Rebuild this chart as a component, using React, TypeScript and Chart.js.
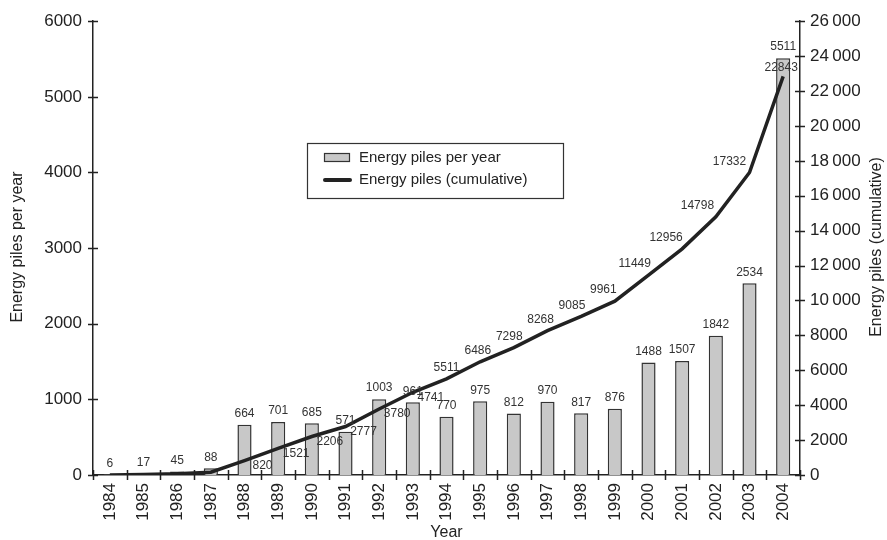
import React, { useEffect, useRef } from "react";
import { Chart, registerables } from "chart.js";

Chart.register(...registerables);

const years = ["1984","1985","1986","1987","1988","1989","1990","1991","1992","1993","1994","1995","1996","1997","1998","1999","2000","2001","2002","2003","2004"];
const perYear = [6,17,45,88,664,701,685,571,1003,961,770,975,812,970,817,876,1488,1507,1842,2534,5511];
const cumulative = [6,23,68,156,820,1521,2206,2777,3780,4741,5511,6486,7298,8268,9085,9961,11449,12956,14798,17332,22843];
const leftAxis = { min: 0, max: 6000, step: 1000 };
const rightAxis = { min: 0, max: 26000, step: 2000 };
const barLabel = "Energy piles per year";
const lineLabel = "Energy piles (cumulative)";
const xTitle = "Year";
const leftTitle = "Energy piles per year";
const rightTitle = "Energy piles (cumulative)";

const FONT = "'Liberation Sans', Arial, sans-serif";
const INK = "#222";

const fmtRight = (v: number) => {
  const s = String(v);
  return v >= 10000 ? s.slice(0, s.length - 3) + "\u2009" + s.slice(-3) : s;
};

const decorPlugin = {
  id: "decor",
  afterDatasetsDraw(chart: any) {
    const ctx = chart.ctx;
    ctx.save();
    ctx.fillStyle = "#333";
    ctx.font = `12px ${FONT}`;
    ctx.textAlign = "center";
    ctx.textBaseline = "middle";
    const barMeta = chart.getDatasetMeta(1);
    barMeta.data.forEach((el: any, i: number) => {
      ctx.fillText(String(perYear[i]), el.x, el.y - 11);
    });
    const lineMeta = chart.getDatasetMeta(0);
    lineMeta.data.forEach((el: any, i: number) => {
      if (i < 4) return;
      let dx = 0, dy = 0;
      if (i < 10) { dx = 18; dy = 5; }
      else if (i < cumulative.length - 1) { dx = -Math.min(20, (i - 10) * 2.3); dy = -11; }
      else { dx = -2; dy = -9; }
      ctx.fillText(String(cumulative[i]), el.x + dx, el.y + dy);
    });
    ctx.restore();
  },
  afterDraw(chart: any) {
    const ctx = chart.ctx;
    const a = chart.chartArea;
    const yL = chart.scales.y;
    const yR = chart.scales.y1;
    ctx.save();
    ctx.strokeStyle = INK;
    ctx.lineWidth = 1.5;
    ctx.beginPath();
    for (let v = leftAxis.min; v <= leftAxis.max; v += leftAxis.step) {
      const y = Math.round(yL.getPixelForValue(v)) + 0.5;
      ctx.moveTo(a.left - 5, y); ctx.lineTo(a.left + 5, y);
    }
    for (let v = rightAxis.min; v <= rightAxis.max; v += rightAxis.step) {
      const y = Math.round(yR.getPixelForValue(v)) + 0.5;
      ctx.moveTo(a.right - 5, y); ctx.lineTo(a.right + 5, y);
    }
    const n = years.length;
    for (let i = 0; i <= n; i++) {
      const x = Math.round(a.left + (i * (a.right - a.left)) / n) + 0.5;
      ctx.moveTo(x, a.bottom - 5); ctx.lineTo(x, a.bottom + 5);
    }
    ctx.stroke();

    ctx.fillStyle = INK;
    ctx.font = `16px ${FONT}`;
    ctx.textAlign = "center";
    ctx.textBaseline = "middle";
    ctx.fillText(xTitle, (a.left + a.right) / 2, 533);
    ctx.save();
    ctx.translate(18, 247);
    ctx.rotate(-Math.PI / 2);
    ctx.fillText(leftTitle, 0, 0);
    ctx.restore();
    ctx.save();
    ctx.translate(877, 247);
    ctx.rotate(-Math.PI / 2);
    ctx.fillText(rightTitle, 0, 0);
    ctx.restore();

    const lx = 307, ly = 143, lw = 256, lh = 55;
    ctx.fillStyle = "#fff";
    ctx.fillRect(lx, ly, lw, lh);
    ctx.strokeStyle = "#333";
    ctx.lineWidth = 1.2;
    ctx.strokeRect(lx + 0.5, ly + 0.5, lw, lh);
    ctx.fillStyle = "#c8c8c8";
    ctx.fillRect(324, 153, 25, 8);
    ctx.strokeStyle = "#333";
    ctx.lineWidth = 1.2;
    ctx.strokeRect(324.5, 153.5, 25, 8);
    ctx.strokeStyle = INK;
    ctx.lineWidth = 4;
    ctx.lineCap = "round";
    ctx.beginPath();
    ctx.moveTo(325, 180); ctx.lineTo(350, 180);
    ctx.stroke();
    ctx.fillStyle = INK;
    ctx.font = `15px ${FONT}`;
    ctx.textAlign = "left";
    ctx.fillText(barLabel, 359, 158);
    ctx.fillText(lineLabel, 359, 180);
    ctx.restore();
  },
};

export default function App() {
  const ref = useRef<HTMLCanvasElement>(null);
  useEffect(() => {
    if (!ref.current) return;
    const tickFont = { family: FONT, size: 17 };
    const chart = new Chart(ref.current, {
      type: "bar",
      data: {
        labels: years,
        datasets: [
          {
            type: "line",
            label: lineLabel,
            data: cumulative,
            yAxisID: "y1",
            borderColor: INK,
            borderWidth: 3.5,
            pointRadius: 0,
            tension: 0,
            order: 0,
          } as any,
          {
            type: "bar",
            label: barLabel,
            data: perYear,
            yAxisID: "y",
            backgroundColor: "#c8c8c8",
            borderColor: "#333",
            borderWidth: 1.5,
            barPercentage: 0.42,
            categoryPercentage: 1,
            order: 1,
          },
        ],
      },
      options: {
        responsive: false,
        animation: false,
        layout: { padding: { top: 20, left: 0, right: 0, bottom: 0 } },
        plugins: { legend: { display: false }, tooltip: { enabled: false } },
        scales: {
          x: {
            offset: true,
            grid: { display: false, drawTicks: false },
            border: { display: true, color: INK, width: 1.5 },
            ticks: { minRotation: 90, maxRotation: 90, padding: 8, color: INK, font: tickFont, autoSkip: false },
            afterFit: (s: any) => { s.height = 65; },
          },
          y: {
            position: "left",
            min: leftAxis.min,
            max: leftAxis.max,
            grid: { display: false, drawTicks: false },
            border: { display: true, color: INK, width: 1.5 },
            ticks: { stepSize: leftAxis.step, padding: 11, color: INK, font: tickFont, callback: (v: any) => String(v) },
            afterFit: (s: any) => { s.width = 93; },
          },
          y1: {
            position: "right",
            min: rightAxis.min,
            max: rightAxis.max,
            grid: { display: false, drawTicks: false },
            border: { display: true, color: INK, width: 1.5 },
            ticks: { stepSize: rightAxis.step, padding: 10, color: INK, font: tickFont, callback: (v: any) => fmtRight(Number(v)) },
            afterFit: (s: any) => { s.width = 87; },
          },
        },
      },
      plugins: [decorPlugin],
    });
    return () => chart.destroy();
  }, []);
  return (
    <div style={{ position: "fixed", left: 0, top: 0, width: 887, height: 540, background: "#fff" }}>
      <canvas ref={ref} width={887} height={540} />
    </div>
  );
}
